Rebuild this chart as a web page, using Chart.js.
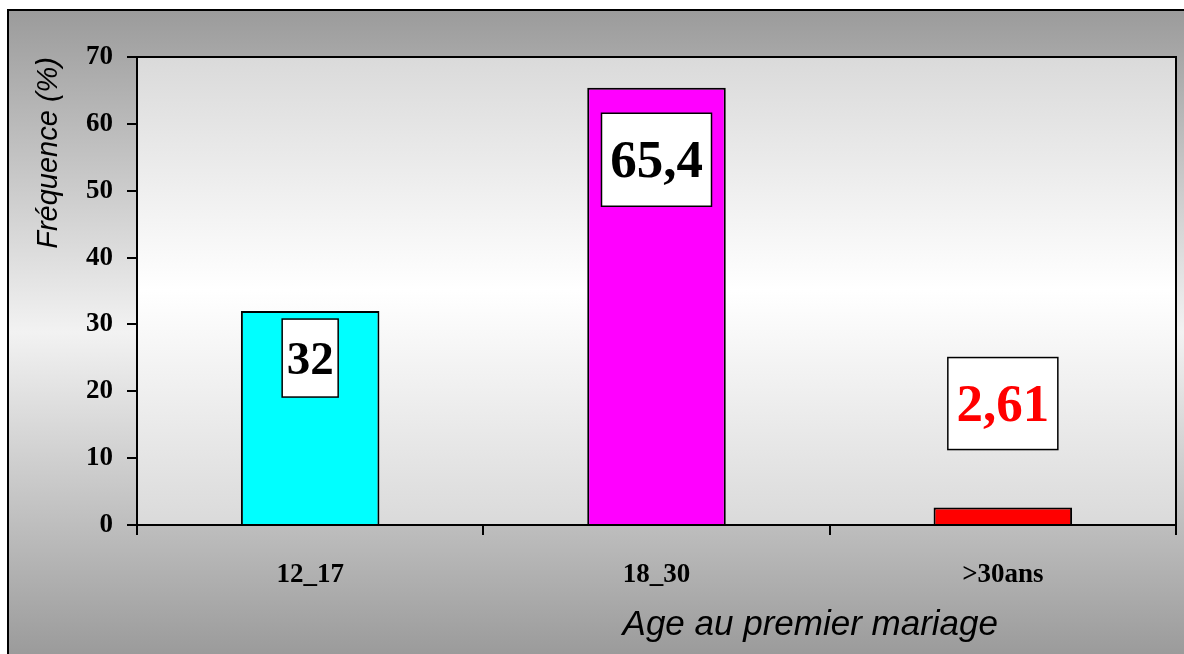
<!DOCTYPE html>
<html>
<head>
<meta charset="utf-8">
<script src="https://cdn.jsdelivr.net/npm/chart.js@4/dist/chart.umd.min.js"></script>
<style>
  html, body { margin: 0; padding: 0; background: #fff; }
  #wrap { width: 1184px; height: 654px; }
</style>
</head>
<body>
<div id="wrap"><canvas id="chart"></canvas></div>
<script>
const categories = ["12_17", "18_30", ">30ans"];
const frequencies = [32, 65.4, 2.61];
const valueLabels = ["32", "65,4", "2,61"];
const yMin = 0;
const yMax = 70;
const yStep = 10;
const yTitle = "Fréquence (%)";
const xTitle = "Age au premier mariage";

const barColors = ["#00ffff", "#ff00ff", "#ff0000"];
const labelColors = ["#000000", "#000000", "#ff0000"];
// label box size and offset of its centre from the bar top (px)
const labelBoxes = [
  { w: 56, h: 78, dy: 47, size: 47 },
  { w: 110, h: 93, dy: 72, size: 53 },
  { w: 110, h: 92, dy: -104, size: 53 },
];

const serifBold = { family: "'Liberation Serif', 'Times New Roman', serif", weight: "bold", size: 27 };

const backgrounds = {
  id: "backgrounds",
  beforeDraw(chart) {
    const { ctx, width, height, chartArea: a } = chart;
    ctx.save();
    // outer frame
    let g = ctx.createLinearGradient(0, 10, 0, height);
    g.addColorStop(0, "#9b9b9b");
    g.addColorStop(0.5, "#f2f2f2");
    g.addColorStop(1, "#9b9b9b");
    ctx.fillStyle = g;
    ctx.fillRect(8, 10, width - 8, height - 10);
    ctx.strokeStyle = "#000";
    ctx.lineWidth = 2;
    ctx.beginPath();
    ctx.moveTo(8, height);
    ctx.lineTo(8, 10);
    ctx.lineTo(width, 10);
    ctx.stroke();
    // plot area
    g = ctx.createLinearGradient(0, a.top, 0, a.bottom);
    g.addColorStop(0, "#dadada");
    g.addColorStop(0.5, "#ffffff");
    g.addColorStop(1, "#dadada");
    ctx.fillStyle = g;
    ctx.fillRect(a.left, a.top, a.right - a.left, a.bottom - a.top);
    ctx.restore();
  },
  afterDraw(chart) {
    const { ctx, chartArea: a } = chart;
    ctx.save();
    ctx.strokeStyle = "#000";
    ctx.lineWidth = 2;
    ctx.beginPath();
    ctx.moveTo(a.left, a.top);
    ctx.lineTo(a.right, a.top);
    ctx.lineTo(a.right, a.bottom);
    ctx.stroke();
    // x axis title
    ctx.fillStyle = "#000";
    ctx.font = "italic 35px 'Liberation Sans', Arial, sans-serif";
    ctx.textAlign = "center";
    ctx.textBaseline = "middle";
    ctx.fillText(xTitle, a.left + (a.right - a.left) * 0.648, a.bottom + 100);
    ctx.restore();
  },
};

const valueBoxes = {
  id: "valueBoxes",
  afterDatasetsDraw(chart) {
    const { ctx } = chart;
    const meta = chart.getDatasetMeta(0);
    ctx.save();
    meta.data.forEach((bar, i) => {
      const b = labelBoxes[i];
      const cx = bar.x;
      const cy = bar.y + b.dy;
      ctx.fillStyle = "#ffffff";
      ctx.fillRect(cx - b.w / 2, cy - b.h / 2, b.w, b.h);
      ctx.strokeStyle = "#000";
      ctx.lineWidth = 1.5;
      ctx.strokeRect(cx - b.w / 2, cy - b.h / 2, b.w, b.h);
      ctx.fillStyle = labelColors[i];
      ctx.font = `bold ${b.size}px 'Liberation Serif', 'Times New Roman', serif`;
      ctx.textAlign = "center";
      ctx.textBaseline = "alphabetic";
      ctx.fillText(valueLabels[i], cx, cy + b.size * 0.33);
    });
    ctx.restore();
  },
};

new Chart(document.getElementById("chart"), {
  type: "bar",
  data: {
    labels: categories,
    datasets: [
      {
        data: frequencies,
        backgroundColor: barColors,
        borderColor: "#000",
        borderWidth: 2,
        barPercentage: 0.4,
        categoryPercentage: 1,
      },
    ],
  },
  options: {
    responsive: true,
    maintainAspectRatio: false,
    animation: false,
    layout: { padding: { left: 0, top: 57, right: 8, bottom: 0 } },
    plugins: {
      legend: { display: false },
      tooltip: { enabled: false },
    },
    scales: {
      x: {
        grid: {
          offset: true,
          drawOnChartArea: false,
          tickLength: 10,
          color: "#000",
          lineWidth: 2,
        },
        border: { color: "#000", width: 2 },
        ticks: { color: "#000", font: serifBold, padding: 24 },
        afterFit(scale) {
          scale.height = 129;
        },
      },
      y: {
        min: yMin,
        max: yMax,
        grid: {
          drawOnChartArea: false,
          tickLength: 10,
          color: "#000",
          lineWidth: 2,
        },
        border: { color: "#000", width: 2 },
        ticks: { stepSize: yStep, color: "#000", font: serifBold, padding: 14 },
        title: {
          display: true,
          text: yTitle,
          align: "end",
          color: "#000",
          font: { family: "'Liberation Sans', Arial, sans-serif", style: "italic", size: 29 },
          padding: { top: 32, bottom: 0 },
        },
        afterFit(scale) {
          scale.width = 137;
        },
      },
    },
  },
  plugins: [backgrounds, valueBoxes],
});
</script>
</body>
</html>
